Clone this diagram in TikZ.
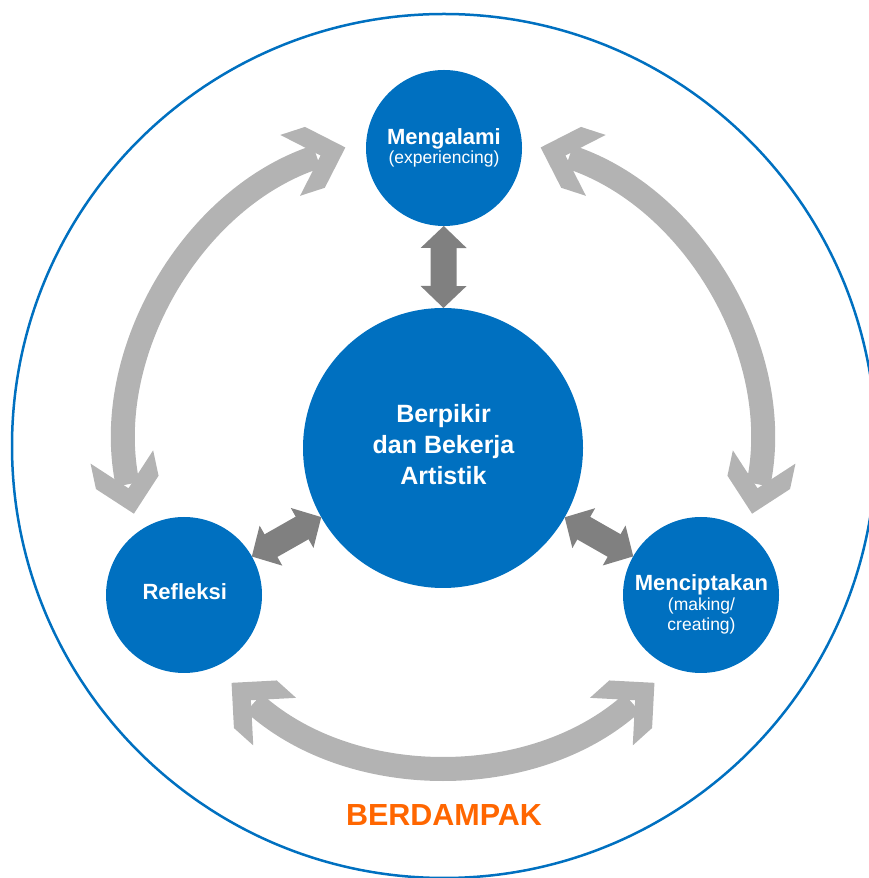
\documentclass[tikz,border=0pt]{standalone}
\usepackage{fontspec}
\setmainfont{Liberation Sans}
\definecolor{blu}{HTML}{0070C0}
\definecolor{lgr}{HTML}{B3B3B3}
\definecolor{dgr}{HTML}{808080}
\definecolor{org}{HTML}{FF6600}
\pgfdeclarearrow{
  name = FlowHead,
  setup code = {
    \pgfarrowssettipend{0pt}
    \pgfarrowssetbackend{-58pt}
    \pgfarrowssetlineend{-30pt}
  },
  drawing code = {
    \pgfpathmoveto{\pgfpointorigin}
    \pgfpathlineto{\pgfpoint{-32pt}{32pt}}
    \pgfpathlineto{\pgfpoint{-58pt}{32pt}}
    \pgfpathlineto{\pgfpoint{-26pt}{0pt}}
    \pgfpathlineto{\pgfpoint{-58pt}{-32pt}}
    \pgfpathlineto{\pgfpoint{-32pt}{-32pt}}
    \pgfpathclose
    \pgfusepathqfill
  }
}
\pgfdeclarearrow{
  name = LinkHead,
  setup code = {
    \pgfarrowssettipend{0pt}
    \pgfarrowssetbackend{-22pt}
    \pgfarrowssetlineend{-18pt}
  },
  drawing code = {
    \pgfpathmoveto{\pgfpointorigin}
    \pgfpathlineto{\pgfpoint{-22pt}{23pt}}
    \pgfpathlineto{\pgfpoint{-22pt}{-23pt}}
    \pgfpathclose
    \pgfusepathqfill
  }
}
\begin{document}
\begin{tikzpicture}[x=1pt,y=1pt,
  bubble/.style={circle, fill=blu, draw=none, inner sep=0pt, outer sep=0pt},
  smallb/.style={bubble, minimum size=156pt},
  bigb/.style={bubble, minimum size=280pt},
  lbl/.style={text=white, align=center, inner sep=0pt},
  ttl/.style={lbl, font=\bfseries\fontsize{22}{19}\selectfont},
  flow/.style={lgr, line width=24pt, arrows={FlowHead-FlowHead}},
  link/.style={dgr, line width=26pt, arrows={LinkHead-LinkHead}}
]
\useasboundingbox (0,0) rectangle (869,878);
% outer circle
\draw[blu, line width=2.5pt] (444,432) circle[radius=432];

% bubbles
\node[bigb] (C) at (443,430) {};
\node[smallb] (M) at (444,730) {};
\node[smallb] (R) at (184,283) {};
\node[smallb] (K) at (701,283) {};

% labels
\node[ttl] (Mt) at (444,730.6) {Mengalami\\{\mdseries\fontsize{17.5}{19}\selectfont (experiencing)}};
\node[lbl, font=\bfseries\fontsize{25}{31}\selectfont] (Ct) at (443.5,433.4) {Berpikir\\dan Bekerja\\Artistik};
\node[ttl] (Rt) at (184.8,286) {Refleksi};
\node[ttl, font=\bfseries\fontsize{22}{20}\selectfont] (Kt) at (701.5,274) {Menciptakan\\{\mdseries\fontsize{17.5}{20}\selectfont (making/}\\{\mdseries\fontsize{17.5}{20}\selectfont creating)}};

% curved light grey arrows
\coordinate (fl) at ([shift={(108:316)}]C.center);
\coordinate (fr) at ([shift={(72:316)}]C.center);
\coordinate (fb) at ([shift={(228:316)}]C.center);
\draw[flow] (fl) arc[start angle=108, end angle=192, radius=316];
\draw[flow] (fr) arc[start angle=72, end angle=-12, radius=316];
\draw[flow] (fb) arc[start angle=228, end angle=312, radius=316];

% dark grey links
\draw[link] (M) -- (C);
\draw[link] (R) -- (C);
\draw[link] (K) -- (C);

% bottom text
\node[text=org, font=\bfseries\fontsize{30.5}{36}\selectfont, anchor=base, inner sep=0pt] (B) at (444,52) {BERDAMPAK};
\end{tikzpicture}
\end{document}
